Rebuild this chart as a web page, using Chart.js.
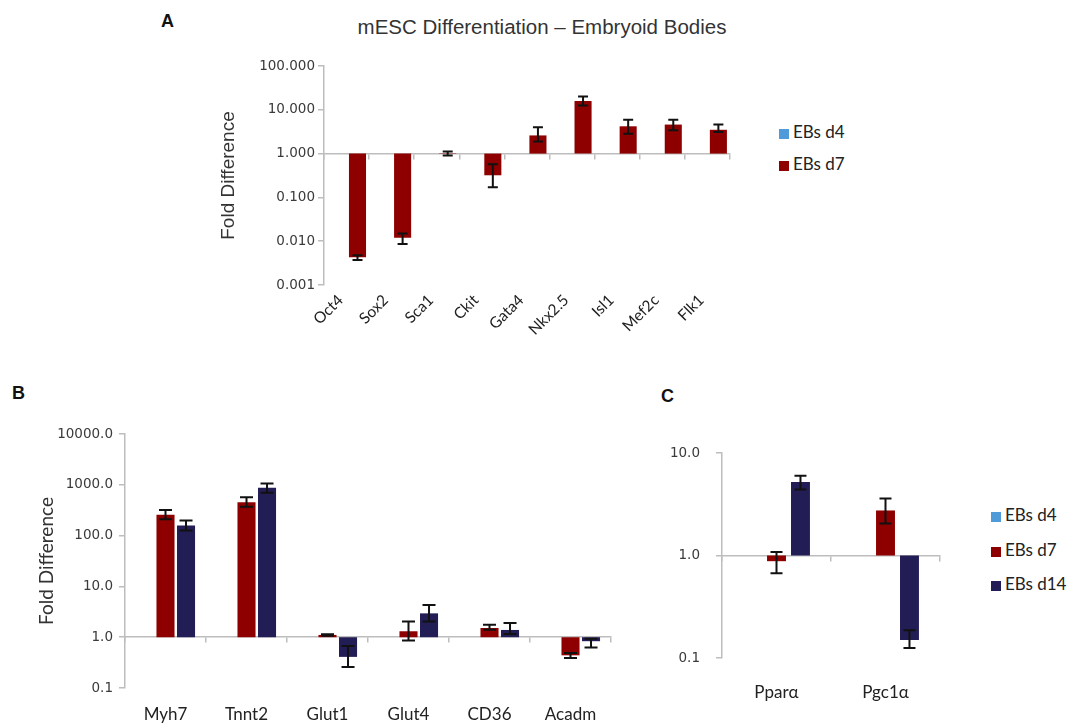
<!DOCTYPE html>
<html>
<head>
<meta charset="utf-8">
<title>mESC Differentiation</title>
<script src="https://cdn.jsdelivr.net/npm/chart.js@4.4.1/dist/chart.umd.min.js"></script>
<style>
  body { margin: 0; background: #fff; width: 1070px; height: 723px; position: relative; overflow: hidden; }
  canvas { position: absolute; }
  .panel { position: absolute; font: bold 18px "Liberation Sans", Arial, sans-serif; color: #111; line-height: 20px; }
  .title { position: absolute; left: 292px; width: 500px; top: 16px; text-align: center;
           font: 20.5px "Liberation Sans", Arial, sans-serif; color: #333; line-height: 22px; }
  .leg { position: absolute; font: 17px Lato, sans-serif; color: #222; height: 20px; line-height: 20px; white-space: nowrap; }
  .leg i { display: inline-block; width: 10px; height: 10px; margin-right: 4px; vertical-align: -1px; }
</style>
</head>
<body>
<div class="panel" style="left:161px;top:11px">A</div>
<div class="panel" style="left:12px;top:383px">B</div>
<div class="panel" style="left:661px;top:386px">C</div>
<div class="title">mESC Differentiation – Embryoid Bodies</div>

<canvas id="chartA" width="600" height="320" style="left:150px;top:40px"></canvas>
<canvas id="chartB" width="640" height="303" style="left:0px;top:420px"></canvas>
<canvas id="chartC" width="300" height="303" style="left:650px;top:420px"></canvas>

<div id="legA"></div>
<div id="legC"></div>

<script>
// series
const seriesNames = ['EBs d4', 'EBs d7', 'EBs d14'];
const seriesColors = ['#4f9bd9', '#8e0000', '#221d55'];

// panel A - EBs d7 only (d4 is the reference, no bars)
const genesA = ['Oct4', 'Sox2', 'Sca1', 'Ckit', 'Gata4', 'Nkx2.5', 'Isl1', 'Mef2c', 'Flk1'];
const d7A   = [0.0043, 0.012, 1.02, 0.32, 2.6, 15.8, 4.2, 4.6, 3.5];
const d7ALo = [0.0037, 0.0086, 0.9, 0.17, 1.9, 12.6, 2.85, 3.4, 3.1];
const d7AHi = [0.0048, 0.015, 1.12, 0.57, 4.0, 20, 5.9, 5.9, 4.6];
const ticksA = [0.001, 0.01, 0.1, 1, 10, 100];
const tickLabelsA = ['0.001', '0.010', '0.100', '1.000', '10.000', '100.000'];

// panel B
const genesB = ['Myh7', 'Tnnt2', 'Glut1', 'Glut4', 'CD36', 'Acadm'];
const d7B    = [257, 453, 1.11, 1.31, 1.52, 0.44];
const d7BLo  = [210, 372, 1.07, 0.86, 1.41, 0.39];
const d7BHi  = [320, 568, 1.15, 2.05, 1.76, 0.49];
const d14B   = [158, 875, 0.41, 2.95, 1.39, 0.835];
const d14BLo = [126, 700, 0.26, 2.05, 1.16, 0.63];
const d14BHi = [198, 1060, 0.67, 4.3, 1.9, 0.93];
const ticksB = [0.1, 1, 10, 100, 1000, 10000];
const tickLabelsB = ['0.1', '1.0', '10.0', '100.0', '1000.0', '10000.0'];

// panel C
const genesC = ['Pparα', 'Pgc1α'];
const d7C    = [0.88, 2.75];
const d7CLo  = [0.67, 2.05];
const d7CHi  = [1.08, 3.6];
const d14C   = [5.2, 0.15];
const d14CLo = [4.4, 0.125];
const d14CHi = [6.0, 0.187];
const ticksC = [0.1, 1, 10];
const tickLabelsC = ['0.1', '1.0', '10.0'];

const AXIS = '#bdbdbd';

// bars hang from 1.0 (fold difference baseline)
const fromOne = vals => vals.map(v => v == null ? null : [1, v]);

const errorBars = {
  id: 'errorBars',
  afterDatasetsDraw(chart, args, opts) {
    const { ctx } = chart;
    const y = chart.scales.y;
    chart.data.datasets.forEach((ds, i) => {
      if (!ds.errLo) return;
      chart.getDatasetMeta(i).data.forEach((bar, j) => {
        const lo = ds.errLo[j], hi = ds.errHi[j];
        if (lo == null) return;
        const x = bar.x, y1 = y.getPixelForValue(lo), y2 = y.getPixelForValue(hi);
        const c = opts.cap / 2;
        ctx.save();
        ctx.strokeStyle = '#111';
        ctx.lineWidth = 2;
        ctx.beginPath();
        ctx.moveTo(x, y1); ctx.lineTo(x, y2);
        ctx.moveTo(x - c, y1); ctx.lineTo(x + c, y1);
        ctx.moveTo(x - c, y2); ctx.lineTo(x + c, y2);
        ctx.stroke();
        ctx.restore();
      });
    });
  }
};

function makeChart(id, p) {
  const datasets = p.series.map(s => ({
    label: seriesNames[s.idx],
    data: s.vals ? fromOne(s.vals) : p.labels.map(() => null),
    errLo: s.lo, errHi: s.hi,
    backgroundColor: seriesColors[s.idx],
    borderWidth: 0,
    categoryPercentage: p.catPct,
    barPercentage: p.barPct,
    xAxisID: 'x'
  }));
  return new Chart(document.getElementById(id), {
    type: 'bar',
    data: { labels: p.labels, datasets },
    plugins: [errorBars],
    options: {
      responsive: false,
      animation: false,
      layout: { padding: p.pad },
      plugins: {
        legend: { display: false },
        tooltip: { enabled: false },
        errorBars: { cap: p.cap }
      },
      scales: {
        x: {
          type: 'category',
          offset: true,
          grid: { display: false },
          border: { display: false },
          ticks: {
            autoSkip: false,
            minRotation: p.rot, maxRotation: p.rot,
            padding: p.xPad,
            labelOffset: p.xShift || 0,
            color: '#222',
            font: { family: 'Lato', size: p.xFont }
          },
          afterFit: s => { s.height = p.xHeight; }
        },
        base: {
          type: 'category',
          axis: 'x',
          offset: true,
          position: { y: 1 },
          grid: { offset: true, drawOnChartArea: false, tickLength: 5, color: AXIS, lineWidth: 1.5 },
          border: { color: AXIS, width: 1.5 },
          ticks: { display: false }
        },
        y: {
          type: 'logarithmic',
          min: p.ticks[0],
          max: p.ticks[p.ticks.length - 1],
          afterBuildTicks: s => { s.ticks = p.ticks.map(v => ({ value: v })); },
          afterFit: s => { s.width = p.yWidth; },
          grid: { drawOnChartArea: false, tickLength: 6, color: AXIS, lineWidth: 1.5 },
          border: { color: AXIS, width: 1.5 },
          ticks: {
            padding: p.yPad,
            color: '#3a3a3a',
            font: { family: 'DejaVu Sans', size: 13.5 },
            callback: v => p.tickLabels[p.ticks.findIndex(t => Math.abs(t - v) / t < 1e-6)]
          },
          title: {
            display: !!p.yTitle,
            text: p.yTitle,
            color: '#333',
            padding: 0,
            font: { family: p.yTitleFont, size: 19 }
          }
        }
      }
    }
  });
}

makeChart('chartA', {
  labels: genesA,
  series: [{ idx: 0 }, { idx: 1, vals: d7A, lo: d7ALo, hi: d7AHi }],
  ticks: ticksA, tickLabels: tickLabelsA,
  catPct: 0.97, barPct: 0.78, cap: 10,
  pad: { left: 67, right: 20, top: 26, bottom: 0 },
  yWidth: 107, yPad: 3, xHeight: 75, xPad: -2, xShift: -6, xFont: 15.5, rot: 45,
  yTitle: 'Fold Difference', yTitleFont: 'Liberation Sans'
});

makeChart('chartB', {
  labels: genesB,
  series: [{ idx: 0 }, { idx: 1, vals: d7B, lo: d7BLo, hi: d7BHi }, { idx: 2, vals: d14B, lo: d14BLo, hi: d14BHi }],
  ticks: ticksB, tickLabels: tickLabelsB,
  catPct: 0.76, barPct: 0.88, cap: 13,
  pad: { left: 35, right: 29, top: 13, bottom: 0 },
  yWidth: 90, yPad: 6, xHeight: 35, xPad: 8, xFont: 17, rot: 0,
  yTitle: 'Fold Difference', yTitleFont: 'Lato'
});

makeChart('chartC', {
  labels: genesC,
  series: [{ idx: 0 }, { idx: 1, vals: d7C, lo: d7CLo, hi: d7CHi }, { idx: 2, vals: d14C, lo: d14CLo, hi: d14CHi }],
  ticks: ticksC, tickLabels: tickLabelsC,
  catPct: 0.66, barPct: 0.79, cap: 12,
  pad: { left: 0, right: 10, top: 33, bottom: 0 },
  yWidth: 72, yPad: 16, xHeight: 65, xPad: 16, xFont: 17, rot: 0,
  yTitle: ''
});

// legends
function legend(id, left, rows, count) {
  const box = document.getElementById(id);
  for (let i = 0; i < count; i++) {
    const d = document.createElement('div');
    d.className = 'leg';
    d.style.left = left + 'px';
    d.style.top = (rows[i] - 10) + 'px';
    d.innerHTML = `<i style="background:${seriesColors[i]}"></i>${seriesNames[i]}`;
    box.appendChild(d);
  }
}
legend('legA', 779, [132, 164], 2);
legend('legC', 991, [515, 550, 584], 3);
</script>
</body>
</html>
